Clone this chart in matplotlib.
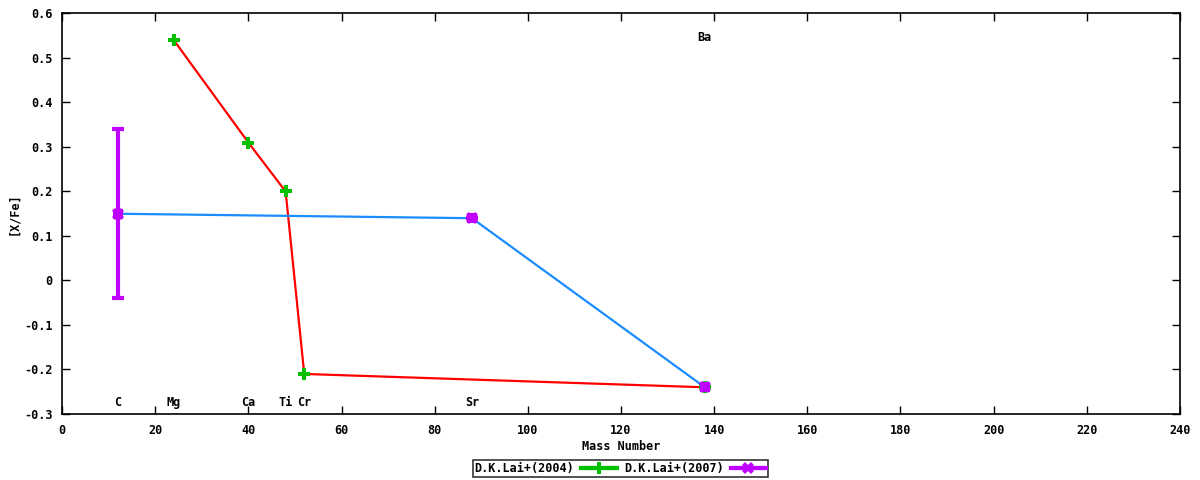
import numpy as np
import matplotlib
matplotlib.use("Agg")
import matplotlib.pyplot as plt
from matplotlib.container import ErrorbarContainer
from matplotlib.legend_handler import HandlerErrorbar

plt.rcParams['font.family'] = ['DejaVu Sans Mono']
plt.rcParams['font.weight'] = 'bold'
plt.rcParams['axes.unicode_minus'] = False

# Data
mass_2004 = [24, 40, 48, 52, 138]
xfe_2004 = [0.54, 0.31, 0.20, -0.21, -0.24]
mass_2007 = [12, 88, 138]
xfe_2007 = [0.15, 0.14, -0.24]
err_2007 = [0.19, 0.0, 0.0]

elements = ['C', 'Mg', 'Ca', 'Ti', 'Cr', 'Sr', 'Ba']
element_mass = [12, 24, 40, 48, 52, 88, 138]
element_label_y = [-0.275, -0.275, -0.275, -0.275, -0.275, -0.275, 0.545]

x_ticks = list(range(0, 241, 20))
y_ticks = [-0.3, -0.2, -0.1, 0, 0.1, 0.2, 0.3, 0.4, 0.5, 0.6]

green = '#00c000'
purple = '#c000ff'
blue = '#1a8cff'
red = '#ff0000'
fs = 8.5

fig = plt.figure(figsize=(12, 4.8), dpi=100)
ax = fig.add_axes([0.0517, 0.1375, 0.9316, 0.8344])

ax.plot(mass_2004, xfe_2004, color=red, lw=1.6, zorder=2)
ax.plot(mass_2007, xfe_2007, color=blue, lw=1.6, zorder=2)

# error bars
ax.errorbar(mass_2007, xfe_2007, yerr=err_2007, fmt='none', ecolor=purple,
            elinewidth=3, capsize=4, capthick=3, zorder=3)
# markers
ax.plot(mass_2004, xfe_2004, 'P', color=green, ms=8, mew=0, zorder=4)
ax.plot(mass_2007, xfe_2007, 's', color=purple, ms=7, mew=0, zorder=5)
ax.plot(mass_2007, xfe_2007, 'X', color=purple, ms=9, mew=0, zorder=5)

for el, m, yv in zip(elements, element_mass, element_label_y):
    ax.text(m, yv, el, ha='center', va='center', fontsize=fs, fontweight='bold')

ax.set_xlim(0, 240)
ax.set_ylim(-0.3, 0.6)
ax.set_xticks(x_ticks)
ax.set_xticklabels([str(v) for v in x_ticks])
ax.set_yticks(y_ticks)
ax.set_yticklabels(['%g' % v for v in y_ticks])
ax.tick_params(direction='in', length=6, width=1, top=True, right=True,
               labelsize=fs, pad=7)
for lab in ax.get_xticklabels() + ax.get_yticklabels():
    lab.set_fontweight('bold')
for sp in ax.spines.values():
    sp.set_linewidth(1.2)

ax.set_xlabel('Mass Number', fontsize=fs, fontweight='bold', va='center')
ax.xaxis.set_label_coords(0.5, -0.082)
ax.set_ylabel('[X/Fe]', fontsize=fs, fontweight='bold', va='center')
ax.yaxis.set_label_coords(-0.043, 0.5)

# Legend handles (errorbar style samples)
h1 = ax.errorbar([np.nan], [np.nan], xerr=[1], fmt='-P', color=green, lw=3, ms=8,
                 mew=0, elinewidth=3, capsize=4, capthick=3)
h2 = ax.errorbar([np.nan], [np.nan], xerr=[1], fmt='-X', color=purple, lw=3, ms=9,
                 mew=0, elinewidth=3, capsize=4, capthick=3)
leg = fig.legend([h1, h2], ['D.K.Lai+(2004)', 'D.K.Lai+(2007)'],
                 loc='upper center', bbox_to_anchor=(0.517, 0.0417), ncol=2,
                 markerfirst=False, frameon=True, fancybox=False,
                 edgecolor='black', fontsize=fs, borderpad=0.15,
                 handlelength=3.0, handletextpad=0.6, columnspacing=0.6,
                 borderaxespad=0,
                 handler_map={ErrorbarContainer: HandlerErrorbar(xerr_size=1.4)})
leg.get_frame().set_linewidth(1.2)
for t in leg.get_texts():
    t.set_fontweight('bold')

fig.savefig('out.png', dpi=100)
